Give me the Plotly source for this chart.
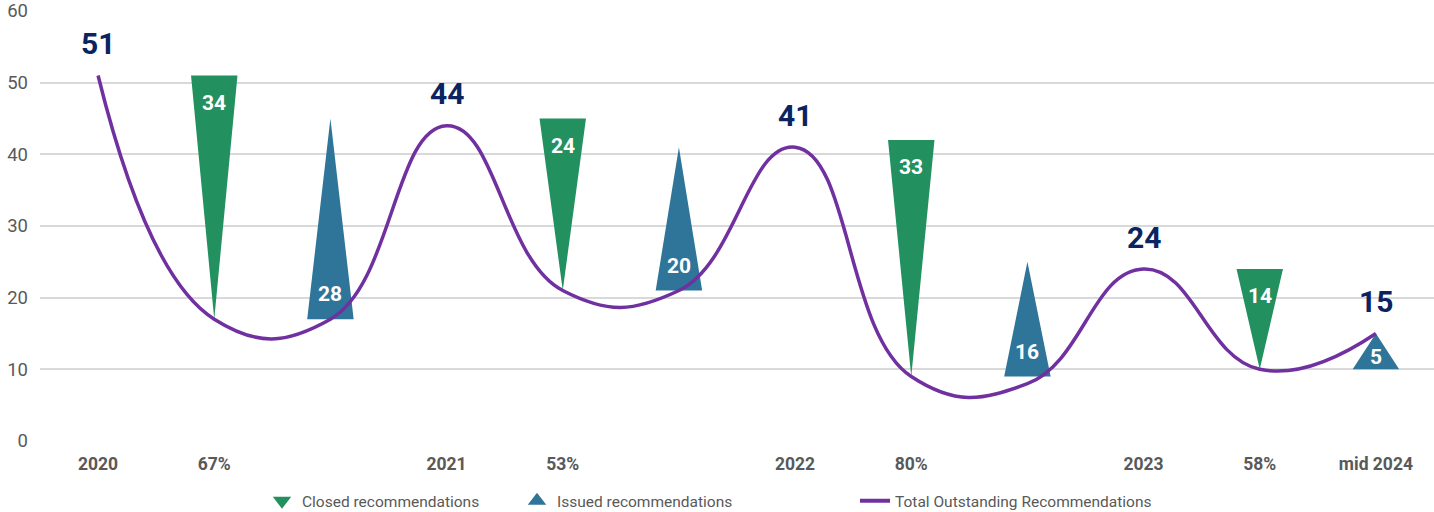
import plotly.graph_objects as go

# ---- data ----
categories = ["2020", "67%", "", "2021", "53%", "", "2022", "80%", "", "2023", "58%", "mid 2024"]
total_outstanding = [51, 17, 17, 44, 21, 21, 41, 9, 8, 24, 10, 15]
total_label_idx = [0, 3, 6, 9, 11]
total_labels = ["51", "44", "41", "24", "15"]

closed_idx = [1, 4, 7, 10]
closed_start = [51, 45, 42, 24]
closed_values = [34, 24, 33, 14]

issued_idx = [2, 5, 8, 11]
issued_values = [28, 20, 16, 5]

GREEN = "#23905F"
BLUE = "#2E7599"
PURPLE = "#7030A0"
NAVY = "#0B2461"
GRAY = "#595959"
HALF = 0.2

closed_end = [s - v for s, v in zip(closed_start, closed_values)]
issued_base = closed_end
issued_top = [b + v for b, v in zip(issued_base, issued_values)]

fig = go.Figure()

# closed triangles (pointing down)
cx, cy = [], []
for i, s, e in zip(closed_idx, closed_start, closed_end):
    cx += [i - HALF, i + HALF, i, i - HALF, None]
    cy += [s, s, e, s, None]
fig.add_trace(go.Scatter(x=cx, y=cy, mode="lines", fill="toself", fillcolor=GREEN,
                         line=dict(width=0, color=GREEN), showlegend=False, hoverinfo="skip"))

# issued triangles (pointing up)
ix, iy = [], []
for i, b, t in zip(issued_idx, issued_base, issued_top):
    ix += [i - HALF, i + HALF, i, i - HALF, None]
    iy += [b, b, t, b, None]
fig.add_trace(go.Scatter(x=ix, y=iy, mode="lines", fill="toself", fillcolor=BLUE,
                         line=dict(width=0, color=BLUE), showlegend=False, hoverinfo="skip"))

# total line
fig.add_trace(go.Scatter(x=list(range(len(categories))), y=total_outstanding, mode="lines",
                         line=dict(color=PURPLE, width=3.5, shape="spline", smoothing=1.3),
                         showlegend=False, hoverinfo="skip"))

# legend entries (three separately placed legends)
fig.add_trace(go.Scatter(x=[None], y=[None], mode="markers", name="Closed recommendations",
                         marker=dict(symbol="triangle-down", color=GREEN, size=16), legend="legend"))
fig.add_trace(go.Scatter(x=[None], y=[None], mode="markers", name="Issued recommendations",
                         marker=dict(symbol="triangle-up", color=BLUE, size=16), legend="legend2"))
fig.add_trace(go.Scatter(x=[None], y=[None], mode="lines", name="Total Outstanding Recommendations",
                         line=dict(color=PURPLE, width=4), legend="legend3"))

annotations = []
for i, lab in zip(total_label_idx, total_labels):
    annotations.append(dict(x=i, y=total_outstanding[i], text=lab, showarrow=False, yshift=32,
                            font=dict(family="Roboto", size=30, color=NAVY, weight="bold")))
for i, s, v in zip(closed_idx, closed_start, closed_values):
    annotations.append(dict(x=i, y=s, text=str(v), showarrow=False, yshift=-27,
                            font=dict(family="Roboto", size=21, color="white", weight="bold")))
for i, b, v in zip(issued_idx, issued_base, issued_values):
    h = v * 7.17
    shift = min(25, h * 0.35)
    annotations.append(dict(x=i, y=b, text=str(v), showarrow=False, yshift=shift,
                            font=dict(family="Roboto", size=21, color="white", weight="bold")))

PLOT_L, PLOT_W = 40, 1394
leg_common = dict(orientation="h", xanchor="left", y=-0.14, yanchor="middle",
                  font=dict(family="Roboto", size=15.5, color=GRAY), bgcolor="rgba(0,0,0,0)")

def leg(px):
    d = dict(leg_common)
    d["x"] = (px - PLOT_L) / PLOT_W
    return d

fig.update_layout(
    width=1434, height=512,
    margin=dict(l=PLOT_L, r=0, t=11, b=71, autoexpand=False),
    paper_bgcolor="white", plot_bgcolor="white",
    font=dict(family="Roboto", color=GRAY),
    annotations=annotations,
    legend=leg(262),
    legend2=leg(517),
    legend3=leg(855),
    hovermode=False,
)
fig.update_xaxes(range=[-0.5, len(categories) - 0.5], tickmode="array",
                 tickvals=list(range(len(categories))), ticktext=categories,
                 showgrid=False, zeroline=False, showline=False, ticks="", automargin=False,
                 ticklabelstandoff=10,
                 tickfont=dict(family="Roboto", size=17.5, color=GRAY, weight="bold"))
fig.update_yaxes(range=[0, 60], dtick=10, showgrid=True, gridcolor="#D9D9D9", gridwidth=1.5,
                 zeroline=False, showline=False, ticks="", automargin=False,
                 ticklabelstandoff=11,
                 tickfont=dict(family="Roboto", size=18.5, color=GRAY))

fig.write_html("out.html", config={"displayModeBar": False},
               post_script="document.body.style.margin='0px';document.body.style.overflow='hidden';")
